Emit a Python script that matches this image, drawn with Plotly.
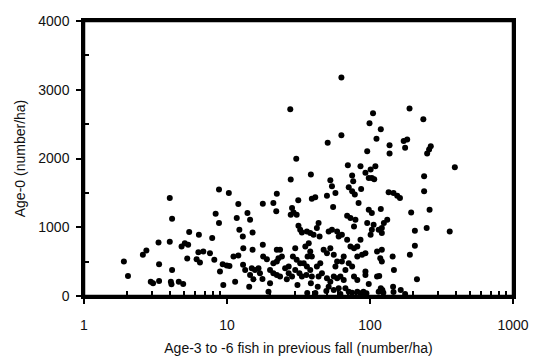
import plotly.graph_objects as go

# Age-3 to -6 fish in previous fall (number/ha)
adults = [
    1.9, 2.03, 2.58, 2.73, 3.32, 3.35, 2.93, 3.04, 3.35, 3.98, 4.13, 3.98, 4.13, 4.05, 4.09, 4.6, 4.94,
    4.81, 5.07, 5.35, 5.44, 5.27, 6.36, 6.13, 6.47, 6.31, 6.83, 7.6, 7.88, 8.15, 8.33, 8.79, 8.79, 10.3,
    9.33, 9.96, 8.93, 9.42,
    12.0, 11.7, 13.9, 14.5, 12.2, 12.9, 15.1, 13.0, 15.1, 11.1, 12.0, 10.4, 12.95, 13.4, 14.9, 15.7,
    16.6, 17.0, 14.5, 15.3, 11.4, 14.3, 17.8, 17.8, 17.9, 19.0, 17.7, 20.0, 19.5, 21.1, 22.3, 22.1,
    22.3, 23.5, 21.1, 22.3, 22.9, 24.2, 20.0, 21.1, 22.3, 23.5, 25.5, 27.0, 26.2,
    27.7, 30.5, 27.9, 31.5, 28.5, 29.2, 27.9, 30.7, 31.6, 32.5, 33.4, 30.0, 28.9, 30.7, 32.5, 30.0,
    32.1, 33.4, 31.1, 27.0, 28.5, 36.2, 38.2, 40.3, 42.5, 44.4, 43.7, 35.3, 37.3, 38.2, 36.6, 39.2,
    34.4, 36.2, 38.2, 35.9, 39.2, 38.6, 38.6, 39.2, 41.4, 42.5, 44.9, 46.1, 43.7, 43.1, 47.4, 50.0,
    52.8, 50.6, 50.0, 52.8, 54.2, 57.3, 55.2, 51.4, 54.2, 58.9, 60.4, 55.8, 58.9, 57.3, 50.0, 52.8,
    51.4, 55.8, 58.9, 55.8, 60.4,
    63.1, 63.1, 70.0, 75.0, 76.3, 71.0, 75.0, 78.3, 85.8, 86.7, 83.2, 95.6, 99.2, 92.9, 98.0, 69.2,
    73.0, 79.1, 77.3, 63.6, 69.2, 73.0, 77.3, 81.5, 85.8, 65.5, 63.6, 71.0, 75.0, 67.3, 81.5, 88.0,
    92.9, 62.1, 65.5, 77.3, 81.5, 92.9, 67.3, 71.0, 75.0, 81.5, 85.8, 90.0, 94.4, 98.0, 95.6,
    105, 119, 111, 137, 137, 172, 182, 176, 189, 236, 266, 259, 251, 392, 239, 239, 109, 101, 103, 107,
    135, 146, 155, 162, 103, 119, 132, 125, 121, 106, 103, 101, 115, 121, 194, 261, 206, 249, 361,
    112, 121, 118, 121, 144, 206, 190, 147, 92.9, 112, 116, 213, 98, 119, 122, 115, 124, 145, 164, 176,
    36.4, 41.5, 49.5, 62.1, 146,
]

# Age-0 (number/ha)
age0 = [
    501, 292, 599, 661, 778, 463, 209, 185, 219, 1426, 1124, 788, 380, 209, 171, 209, 175,
    720, 769, 745, 930, 545, 891, 536, 486, 638, 647, 623, 842, 526, 1197, 1061, 1548, 1499,
    463, 442, 355, 161,
    1339, 1134, 1207, 1110, 964, 866, 924, 696, 672, 574, 588, 438, 453, 380, 404, 380,
    404, 331, 307, 244, 209, 136, 1343, 745, 574, 536, 248, 185, 63, 1353, 1489, 1231,
    672, 672, 477, 501, 550, 574, 380, 331, 307, 282, 404, 428, 244,
    2716, 1996, 1694, 1391, 1280, 1216, 1183, 1183, 1022, 964, 924, 696, 574, 526, 477, 380,
    331, 282, 161, 331, 282, 939, 915, 891, 988, 866, 1061, 720, 769, 647, 574, 574,
    477, 428, 380, 307, 282, 185, 1767, 1416, 1435, 428, 477, 331, 282, 136, 672, 623,
    696, 2229, 1460, 1683, 1596, 1499, 1295, 939, 964, 939, 866, 599, 501, 428, 258, 209,
    136, 282, 258, 88, 112,
    3178, 2340, 1902, 1752, 1669, 1581, 1523, 1475, 1888, 1558, 1353, 2107, 2511, 1791, 1718, 1168,
    1134, 1110, 1012, 891, 818, 720, 696, 720, 818, 574, 501, 477, 428, 380, 574, 599,
    623, 282, 234, 282, 234, 355, 112, 63, 48, 63, 39, 63, 39, 1256, 1061,
    2657, 2424, 2288, 2194, 2073, 2253, 2278, 2156, 2726, 2570, 2180, 2132, 2073, 1873, 1742, 1523, 1888, 1840, 1718, 1700,
    1508, 1499, 1460, 1426, 1207, 1266, 1110, 1061, 988, 1037, 964, 891, 964, 915, 1216, 1256, 949, 988, 939,
    647, 672, 550, 501, 574, 730, 599, 380, 307, 282, 292, 244, 175, 112, 88, 63, 48, 136, 88, 29,
    44, 44, 73, 29, 58,
]

x_major = [1, 10, 100, 1000]
x_minor = [v * m for m in (1, 10, 100) for v in range(2, 10)]
y_major = [0, 1000, 2000, 3000, 4000]
y_minor = [500, 1500, 2500, 3500]

font = dict(family="Liberation Sans, Arial, Helvetica, sans-serif", size=14, color="#111")

fig = go.Figure()
fig.add_trace(go.Scatter(
    x=adults, y=age0, mode="markers",
    marker=dict(color="black", size=6, line=dict(width=0)),
    cliponaxis=False, showlegend=False, hoverinfo="skip",
))

fig.update_layout(
    width=531, height=353,
    margin=dict(l=76, r=26, t=13, b=65),
    paper_bgcolor="white", plot_bgcolor="white",
    font=font,
    xaxis=dict(
        type="log", range=[0, 3], automargin=False,
        tickvals=x_major, ticktext=[str(v) for v in x_major],
        ticks="outside", ticklen=5, tickwidth=2, tickcolor="#000000",
        minor=dict(tickvals=x_minor, ticks="inside", ticklen=5, tickwidth=2, tickcolor="#000000",
                   showgrid=False),
        showline=True, linecolor="#000000", linewidth=2.5, mirror=True,
        showgrid=False, zeroline=False,
        ticklabelstandoff=9,
        title=dict(text="Age-3 to -6 fish in previous fall (number/ha)", standoff=12, font=font),
    ),
    yaxis=dict(
        range=[0, 4000], automargin=False,
        tickvals=y_major,
        ticks="outside", ticklen=5, tickwidth=2, tickcolor="#000000",
        minor=dict(tickvals=y_minor, ticks="inside", ticklen=5, tickwidth=2, tickcolor="#000000",
                   showgrid=False),
        showline=True, linecolor="#000000", linewidth=2.5, mirror=True,
        showgrid=False, zeroline=False,
        ticklabelstandoff=4,
        title=dict(text="Age-0 (number/ha)", standoff=10, font=font),
    ),
    shapes=[dict(type="rect", xref="paper", yref="paper", x0=0, x1=1, y0=0, y1=1,
                 line=dict(color="#000000", width=2.5), layer="above")],
)

fig.write_html("out.html")
